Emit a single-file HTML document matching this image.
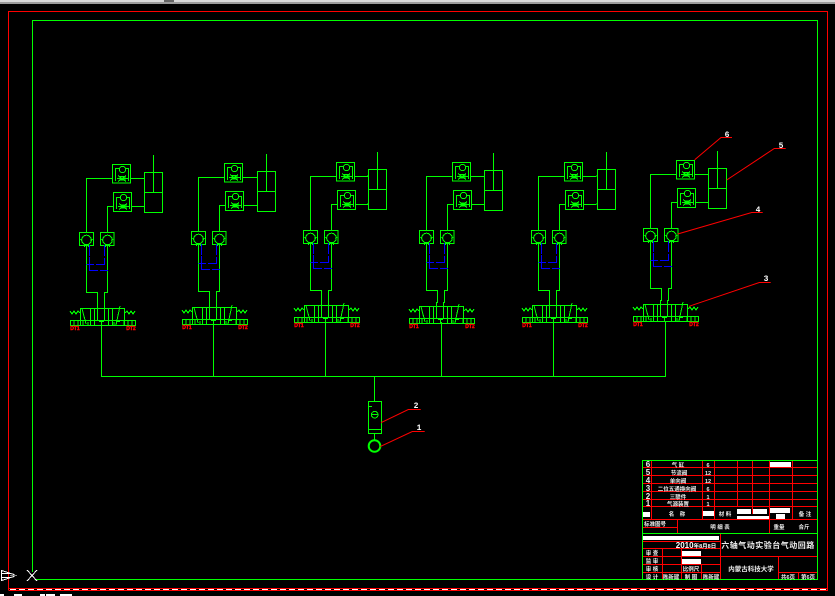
<!DOCTYPE html>
<html><head><meta charset="utf-8">
<style>
html,body{margin:0;padding:0;background:#000;width:835px;height:596px;overflow:hidden}
svg{display:block;position:absolute;left:0;top:0}
text{font-family:"Liberation Sans","Noto Sans CJK SC",sans-serif;fill:#eee}
.g{stroke:#0f0;fill:none;stroke-width:1}
.r{stroke:#f00;fill:none;stroke-width:1}
.b{stroke:#00f;fill:none;stroke-width:1}
.t{font-size:5.5px;text-anchor:middle;font-weight:bold}
.n{font-size:8px;text-anchor:middle;font-weight:bold;font-family:"Liberation Mono",monospace;fill:#fff}
.d{font-size:5px;text-anchor:middle;fill:#f00;font-weight:bold;stroke:#f00;stroke-width:.4px}
</style></head><body>
<svg width="835" height="596" viewBox="0 0 835 596" xmlns="http://www.w3.org/2000/svg" shape-rendering="crispEdges">
<defs>
<g id="cyl" class="g">
 <path d="M144.500 172.500H162.500V212.500H144.500ZM144.500 192.500H162.500M153.500 155V192.500M143.500 178.500H144.500M143.500 206.500H144.500"/>
</g>
<g id="top">
 <g class="g">
  <path d="M86.500 232V178.500H144.500M107.500 232V206.500H144.500"/>
  <rect x="112.500" y="164.500" width="18" height="18.500" fill="#000"/>
  <path d="M86.500 178.500H112.500M130.500 178.500H144.500"/>
  <rect x="113.500" y="192.500" width="18" height="19" fill="#000"/>
  <path d="M113.500 206.500H107.500M131.500 206.500H144.500"/>
  <circle cx="122.500" cy="169.500" r="3.200"/><path d="M115.500 181V168.500H119M126 168.500H128.500V181"/>
  <path d="M117 178.500H128M118 175.500L126 181.500M118 181.500L126 175.500M120 176.500H125V180H120Z"/>
  <circle cx="123.500" cy="197.500" r="3.200"/><path d="M116.500 209V197.500H120M127 197.500H129.500V209"/>
  <path d="M118 206.500H129M119 203.500L127 209.500M119 209.500L127 203.500M121 205H126V208H121Z"/>
  <rect x="79.500" y="232.500" width="14" height="13"/>
  <rect x="100.500" y="232.500" width="13.500" height="13"/>
  <circle cx="86.500" cy="240" r="4.800"/><circle cx="107.500" cy="240" r="4.800"/>
  <path d="M80.500 239L82 241M92.500 239L91 241M101.500 239L103 241M113 239L111.500 241M84.500 244V247M88.500 244V247M105.500 244V247M109.500 244V247"/>
  <path d="M86.500 245.500V292.500H97.500V305M107.500 245.500V292.500H104.500V305"/>
 </g>
 <g class="b">
  <path d="M89.500 245V256M89.500 257V270.500H98M100 270.500H108M104.500 245V256M104.500 258V264.500H96M94 264.500H86.500"/>
 </g>
</g>
<g id="val">
 <g class="g">
  <rect x="80.500" y="308.500" width="44" height="17"/>
  <rect x="70.500" y="320.500" width="65" height="5"/>
  <path d="M90.500 308.500V325M94.500 308.500V325M108.500 308.500V325M112.500 308.500V325M101.500 325.500V322M99 321.500H104"/>
  <path d="M82 308.500L86 324M120 306L116 325M97.500 304V320M104.500 304V320"/>
  <path d="M74 321V325M78 321V325M83 321V325M124 321V325M128 321V325M132 321V325"/>
  <path d="M88 322V325M114 322V325M116 321.500H120"/>
  <path d="M70 311L72 314L74 311L76 314L78 311L80 313M125 313L127 311L129 314L131 311L133 314L135 311"/>
 </g>
 <text class="d" x="75" y="330">DT1</text>
 <text class="d" x="131" y="330">DT2</text>
</g>
</defs>

<!-- top window edge -->
<rect x="0" y="0" width="835" height="2" fill="#d8d8d8"/>
<rect x="0" y="2" width="835" height="2" fill="#9a9a9a"/>
<rect x="164" y="0" width="10" height="2" fill="#666"/>

<!-- frames -->
<path class="r" d="M8.500 590V11.500H827.500V590"/>
<path class="r" d="M8.500 588.500H828M8.500 590.500H828"/>
<path d="M10 589.500H828" stroke="#fff" stroke-width="1" stroke-dasharray="6 3" fill="none"/>
<path class="g" d="M32.500 572V20.500H817.500V579.500H36"/>

<!-- UCS icon -->
<g fill="none" stroke="#fff">
 <path d="M1.500 570.500V580.500L14 576.500V574.500ZM1.500 573.500H10M1.500 577.500H10"/>
 <path d="M10 575.500H17" stroke="#888"/>
 <path d="M27 570L37 581M37 570L27 581"/>
</g>
<g fill="#fff"><rect x="0" y="594" width="4" height="2"/><rect x="14" y="594" width="8" height="2"/><rect x="40" y="594" width="5" height="2"/><rect x="46" y="594" width="9" height="2"/><rect x="60" y="594" width="12" height="2"/></g>

<!-- pneumatic units -->
<use href="#top"/><use href="#val"/><use href="#cyl"/>
<use href="#top" transform="translate(112,-1)"/><use href="#val" transform="translate(112,-1)"/><use href="#cyl" transform="translate(113,-1)"/>
<use href="#top" transform="translate(224,-2)"/><use href="#val" transform="translate(224,-3)"/><use href="#cyl" transform="translate(224,-3)"/>
<use href="#top" transform="translate(340,-2)"/><use href="#val" transform="translate(339,-2)"/><use href="#cyl" transform="translate(340,-2)"/>
<use href="#top" transform="translate(452,-2)"/><use href="#val" transform="translate(452,-3)"/><use href="#cyl" transform="translate(453,-3)"/>
<use href="#top" transform="translate(564,-4)"/><use href="#val" transform="translate(563,-4)"/><use href="#cyl" transform="translate(564,-4)"/>

<!-- header -->
<path d="M101 376.500H666" stroke="#0f0" fill="none"/>
<path d="M101.500 322V376M213.500 322V376M325.500 322V376M441.500 322V376M553.500 322V376M665.500 322V376" stroke="#0f0" fill="none"/>

<!-- supply -->
<g class="g">
 <path d="M374.500 376.500V401.500"/>
 <rect x="368.500" y="401.500" width="13" height="32"/>
 <path d="M368.500 429.500H381.500M368.500 406.500H372M374.500 433.500V440"/>
 <circle cx="374.700" cy="414.700" r="3.300"/><path d="M371.500 414.500H378"/>
</g>
<circle cx="374.500" cy="446" r="5.800" fill="none" stroke="#0f0" stroke-width="2" shape-rendering="auto"/>

<!-- leaders -->
<g class="r" shape-rendering="auto">
 <path d="M694.700 159.700L721 137.500H732"/>
 <path d="M726.700 180L774.300 148.500H785.700"/>
 <path d="M677.700 234L751.700 212.500H762.700"/>
 <path d="M689 306.300L759.300 282.500H770.700"/>
 <path d="M381 422.700L408.300 409.500H420.700"/>
 <path d="M380 446.700L412.300 431.500H424.700"/>
</g>
<text class="n" x="727" y="137">6</text>
<text class="n" x="781" y="148">5</text>
<text class="n" x="758" y="212">4</text>
<text class="n" x="766" y="281">3</text>
<text class="n" x="416" y="408">2</text>
<text class="n" x="419" y="430">1</text>

<!-- title block -->
<g fill="#fff">
 <rect x="770" y="462" width="21" height="5"/>
 <rect x="643" y="512" width="7" height="5"/>
 <rect x="702" y="511" width="12" height="5"/>
 <rect x="737" y="509" width="14" height="5"/>
 <rect x="753" y="509" width="14" height="5"/>
 <rect x="737" y="516" width="33" height="4"/>
 <rect x="770" y="508" width="20" height="5"/>
 <rect x="776" y="514" width="9" height="5"/>
 <rect x="643" y="536" width="76" height="4"/>
 <rect x="681" y="551" width="20" height="5"/>
 <rect x="681" y="559" width="20" height="5"/>
</g>
<g class="r">
 <path d="M642.500 467.500H817M642.500 475.500H817M642.500 483.500H817M642.500 491.500H817M642.500 499.500H817M642.500 506.500H817M642.500 519.500H817"/>
 <path d="M651.500 460V519M702.500 460V519M714.500 460V519M737.500 460V507M752.500 460V514M769.500 460V533M792.500 460V519"/>
 <path d="M677.500 519V533M642.500 527.500H677.500"/>
 <path d="M720.500 533V579M642.500 541.500H720M642.500 548.500H720M642.500 556.500H720M642.500 564.500H720M642.500 572.500H720"/>
 <path d="M662.500 548V579M681.500 548V579M701.500 564V579"/>
 <path d="M720 556.500H817M778.500 556.500V579M778 572.500H817M798.500 572.500V579"/>
</g>
<path class="g" d="M642.500 533.500H817M642.500 579V460.500H817.500"/>

<g>
 <text class="t" x="648" y="467" style="font-size:8px">6</text>
 <text class="t" x="648" y="475" style="font-size:8px">5</text>
 <text class="t" x="648" y="483" style="font-size:8px">4</text>
 <text class="t" x="648" y="491" style="font-size:8px">3</text>
 <text class="t" x="648" y="499" style="font-size:8px">2</text>
 <text class="t" x="648" y="506" style="font-size:8px">1</text>
 <text class="t" x="678" y="467">气 缸</text>
 <text class="t" x="679" y="475">节流阀</text>
 <text class="t" x="678" y="483">单向阀</text>
 <text class="t" x="677" y="491">二位五通换向阀</text>
 <text class="t" x="678" y="499">三联件</text>
 <text class="t" x="678" y="506">气源装置</text>
 <text class="t" x="708" y="467">6</text>
 <text class="t" x="708" y="475">12</text>
 <text class="t" x="708" y="483">12</text>
 <text class="t" x="708" y="491">6</text>
 <text class="t" x="708" y="499">1</text>
 <text class="t" x="708" y="506">1</text>
 <text class="t" x="677" y="516">名　称</text>
 <text class="t" x="725" y="516">材 料</text>
 <text class="t" x="805" y="516">备 注</text>
 <text class="t" x="655" y="526">标准图号</text>
 <text class="t" x="720" y="529">明 细 表</text>
 <text class="t" x="779" y="529">重量</text>
 <text class="t" x="804" y="529">合斤</text>
 <text class="t" x="696" y="548" style="font-size:8px;fill:#fff">2010<tspan style="font-size:5.500px">年8月8日</tspan></text>
 <text class="t" x="768" y="548" style="font-size:8px;letter-spacing:.500px">六轴气动实验台气动回路</text>
 <text class="t" x="652" y="555">审 查</text>
 <text class="t" x="652" y="563">监 审</text>
 <text class="t" x="652" y="571">审 核</text>
 <text class="t" x="652" y="579">设 计</text>
 <text class="t" x="691" y="571">比例尺</text>
 <text class="t" x="671" y="579">陈新建</text>
 <text class="t" x="691" y="579">制 图</text>
 <text class="t" x="711" y="579">陈新建</text>
 <text class="t" x="751" y="571" style="font-size:6.500px">内蒙古科技大学</text>
 <text class="t" x="788" y="579">共6页</text>
 <text class="t" x="808" y="579">第6页</text>
</g>
</svg>
</body></html>
